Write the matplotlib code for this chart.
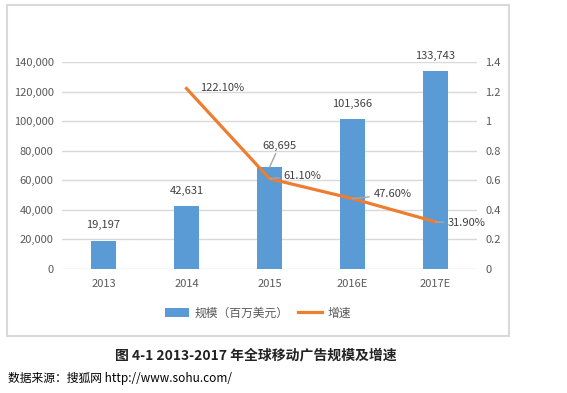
import matplotlib.pyplot as plt
from matplotlib.patches import Rectangle
from matplotlib.ticker import FuncFormatter

plt.rcParams['font.family'] = ['Noto Sans CJK SC', 'DejaVu Sans']

# 数据
years = ['2013', '2014', '2015', '2016E', '2017E']
scale = [19197, 42631, 68695, 101366, 133743]      # 规模（百万美元）
growth = [None, 1.221, 0.611, 0.476, 0.319]         # 增速
growth_labels = ['', '122.10%', '61.10%', '47.60%', '31.90%']

blue = '#5B9BD5'
orange = '#ED7D31'
grid_c = '#D9D9D9'
txt_c = '#595959'

fig = plt.figure(figsize=(5.67, 3.93), dpi=100)

# 外框
fig.patches.append(Rectangle((7 / 567, 1 - 336 / 393), 502 / 567, 331 / 393,
                             transform=fig.transFigure, fill=False,
                             edgecolor=grid_c, linewidth=1.5))

ax = fig.add_axes([62 / 567, 1 - 269 / 393, 415 / 567, 207 / 393])
x = list(range(len(years)))
bars = ax.bar(x, scale, width=0.31, color=blue, zorder=2)
ax.set_xlim(-0.5, len(years) - 0.5)
ax.set_ylim(0, 140000)
ax.set_yticks(range(0, 140001, 20000))
ax.yaxis.set_major_formatter(FuncFormatter(lambda v, p: f'{int(v):,}'))
ax.set_xticks(x)
ax.set_xticklabels(years)
ax.grid(axis='y', color=grid_c, linewidth=1, zorder=0)
ax.set_axisbelow(True)
for s in ax.spines.values():
    s.set_visible(False)
ax.tick_params(length=0, colors=txt_c, labelsize=8)
ax.tick_params(axis='y', pad=6)
ax.tick_params(axis='x', pad=7)

# 柱状标签
for i, v in enumerate(scale):
    if i == 2:
        ax.annotate(f'{v:,}', xy=(i, v), xytext=(7, 12), textcoords='offset points',
                    ha='center', va='bottom', fontsize=8, color='#404040',
                    arrowprops=dict(arrowstyle='-', color='#A6A6A6', lw=1,
                                    shrinkA=0, shrinkB=0),
                    annotation_clip=False)
    else:
        ax.text(i, v + 7000, f'{v:,}', ha='center', va='bottom',
                fontsize=8, color='#404040', clip_on=False)

ax2 = ax.twinx()
gx = [i for i, g in enumerate(growth) if g is not None]
gy = [g for g in growth if g is not None]
ax2.plot(gx, gy, color=orange, linewidth=2.3, zorder=3)
ax2.set_ylim(0, 1.4)
ax2.set_yticks([0, 0.2, 0.4, 0.6, 0.8, 1.0, 1.2, 1.4])
ax2.yaxis.set_major_formatter(FuncFormatter(lambda v, p: f'{v:g}'))
for s in ax2.spines.values():
    s.set_visible(False)
ax2.tick_params(length=0, colors=txt_c, labelsize=8, pad=6)

# 增速标签
offsets = {1: (10, 0), 2: (10, 2), 3: (15, 3), 4: (9, -1)}
for i in gx:
    dx, dy = offsets[i]
    if i == 1:
        ax2.annotate(growth_labels[i], xy=(i, growth[i]), xytext=(dx, dy),
                     textcoords='offset points', ha='left', va='center',
                     fontsize=8, color='#404040', annotation_clip=False)
    else:
        ax2.annotate(growth_labels[i], xy=(i, growth[i]), xytext=(dx, dy),
                     textcoords='offset points', ha='left', va='center',
                     fontsize=8, color='#404040', annotation_clip=False,
                     arrowprops=dict(arrowstyle='-', color='#A6A6A6', lw=1,
                                     shrinkA=1, shrinkB=0))

# 图例
fig.legend([bars, ax2.lines[0]], ['规模（百万美元）', '增速'],
           loc='center', bbox_to_anchor=(258 / 567, 1 - 313 / 393), ncol=2,
           frameon=False, fontsize=8.5, labelcolor=txt_c,
           handlelength=2.0, handletextpad=0.5, columnspacing=0.8)

fig.text(256 / 567, 1 - 355 / 393, '图 4-1 2013-2017 年全球移动广告规模及增速',
         ha='center', va='center', fontsize=10, fontweight='bold', color='#222222')
fig.text(8 / 567, 1 - 378 / 393, '数据来源：搜狐网 http://www.sohu.com/',
         ha='left', va='center', fontsize=8.5, color='black')

fig.savefig('out.png', dpi=100)
